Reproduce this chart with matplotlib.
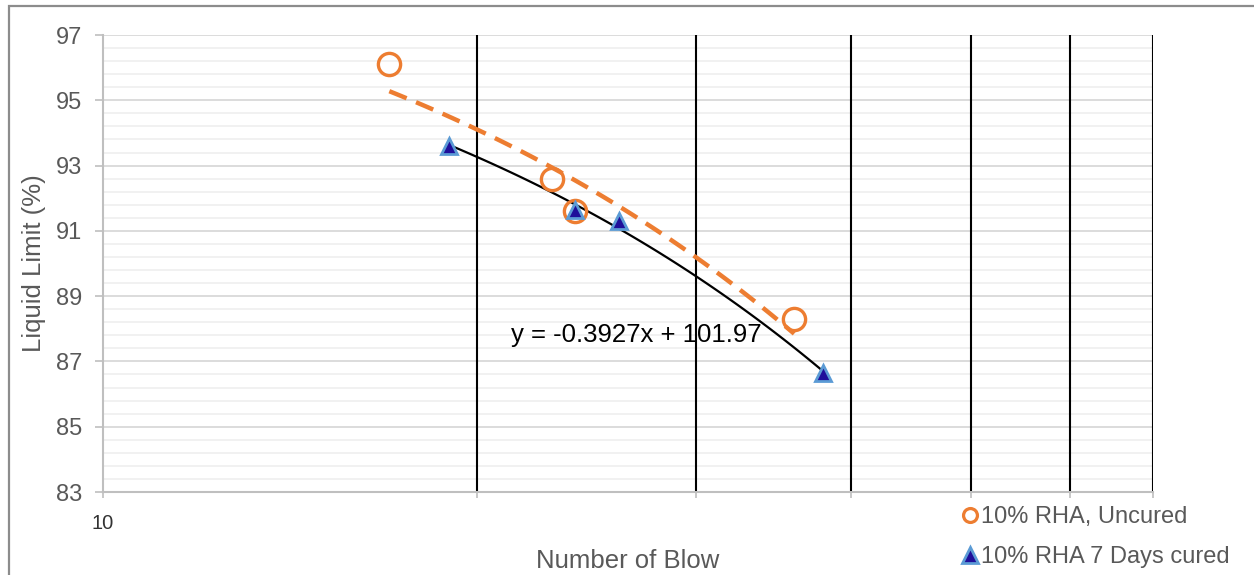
"""Liquid limit versus number of blows, 10% RHA mixes."""

import numpy as np
import matplotlib
matplotlib.use("Agg")
import matplotlib.pyplot as plt
from matplotlib.patches import Rectangle
from matplotlib.lines import Line2D

plt.rcParams['font.family'] = ['Liberation Sans', 'DejaVu Sans']

# Data
uncured_blows = [17, 23, 24, 36]
uncured_ll = [96.1, 92.6, 91.6, 88.3]
cured_blows = [19, 24, 26, 38]
cured_ll = [93.6, 91.65, 91.3, 86.65]

x_grid = [20, 30, 40, 50, 60, 70]
y_ticks = [83, 85, 87, 89, 91, 93, 95, 97]
equation = "y = -0.3927x + 101.97"

orange = '#ED7D31'
gray_text = '#595959'

fig = plt.figure(figsize=(12.54, 5.75), dpi=100)
ax = fig.add_axes([103 / 1254, 1 - 492 / 575, 1050 / 1254, 457 / 575])

ax.set_xscale('log')
ax.set_xlim(10, 70)
ax.set_ylim(83, 97)

# horizontal grid, major and minor
ax.set_yticks(y_ticks)
ax.set_yticks(np.arange(83, 97.01, 0.4), minor=True)
ax.yaxis.grid(True, which='major', color='#D9D9D9', lw=1.3)
ax.yaxis.grid(True, which='minor', color='#F0F0F0', lw=1.3)
ax.tick_params(axis='y', which='minor', length=0)

# vertical black lines at 20..70
ax.set_xticks([10] + x_grid)
ax.set_xticklabels(['10'] + [''] * len(x_grid))
ax.xaxis.set_minor_locator(matplotlib.ticker.NullLocator())
for xv in x_grid:
    ax.axvline(xv, color='black', lw=1.5, zorder=1)

ax.set_axisbelow(True)
for side in ['top', 'right']:
    ax.spines[side].set_visible(False)
for side in ['left', 'bottom']:
    ax.spines[side].set_color('#BFBFBF')
    ax.spines[side].set_linewidth(1.5)

ax.tick_params(axis='y', which='major', length=6, width=1.2, color='#BFBFBF',
               labelsize=17, labelcolor=gray_text, pad=9)
ax.tick_params(axis='x', which='major', length=4, width=1.2, color='#BFBFBF',
               labelsize=14.5, labelcolor='#333333', pad=12)

# trendlines (linear fits)
fit_u = np.polyfit(uncured_blows, uncured_ll, 1)
xs_u = np.linspace(min(uncured_blows), max(uncured_blows), 100)
ax.plot(xs_u, np.polyval(fit_u, xs_u), color=orange, lw=3.2,
        dashes=(4.2, 2.3), zorder=3)

fit_c = np.polyfit(cured_blows, cured_ll, 1)
xs_c = np.linspace(min(cured_blows), max(cured_blows), 100)
ax.plot(xs_c, np.polyval(fit_c, xs_c), color='black', lw=1.6, zorder=3)

# points
ax.plot(uncured_blows, uncured_ll, 'o', ms=16, mfc='none', mec=orange,
        mew=2.4, zorder=4)
ax.plot(cured_blows, cured_ll, '^', ms=11, mfc='#1F0F9A', mec='#5B9BD5',
        mew=2, zorder=5)

ax.text(21.3, 87.8, equation, fontsize=18.5, color='black', ha='left',
        va='center', zorder=6)

ax.set_ylabel("Liquid Limit (%)", fontsize=18.5, color=gray_text)
ax.yaxis.label.set_va('center')
ax.yaxis.set_label_coords(-0.066, 0.5)
ax.set_xlabel("Number of Blow", fontsize=18.5, color=gray_text)
ax.xaxis.label.set_va('center')
ax.xaxis.set_label_coords(0.5, -0.151)

handles = [
    Line2D([], [], ls='none', marker='o', ms=10, mfc='none', mec=orange,
           mew=2.3, label='10% RHA, Uncured'),
    Line2D([], [], ls='none', marker='^', ms=11, mfc='#1F0F9A', mec='#5B9BD5',
           mew=2, label='10% RHA 7 Days cured'),
]
leg = fig.legend(handles=handles, loc='center left',
                 bbox_to_anchor=(951 / 1254, 1 - 537 / 575), frameon=False,
                 fontsize=17, handlelength=0.6, handletextpad=0.15,
                 labelspacing=0.75, borderpad=0)
for t in leg.get_texts():
    t.set_color(gray_text)

# outer chart border
fig.patches.append(Rectangle((9 / 1254, -0.05), 1.1, 1 - 6 / 575 + 0.05,
                             transform=fig.transFigure, fill=False,
                             edgecolor='#8C8C8C', lw=1.6))

fig.savefig('out.png', dpi=100)
